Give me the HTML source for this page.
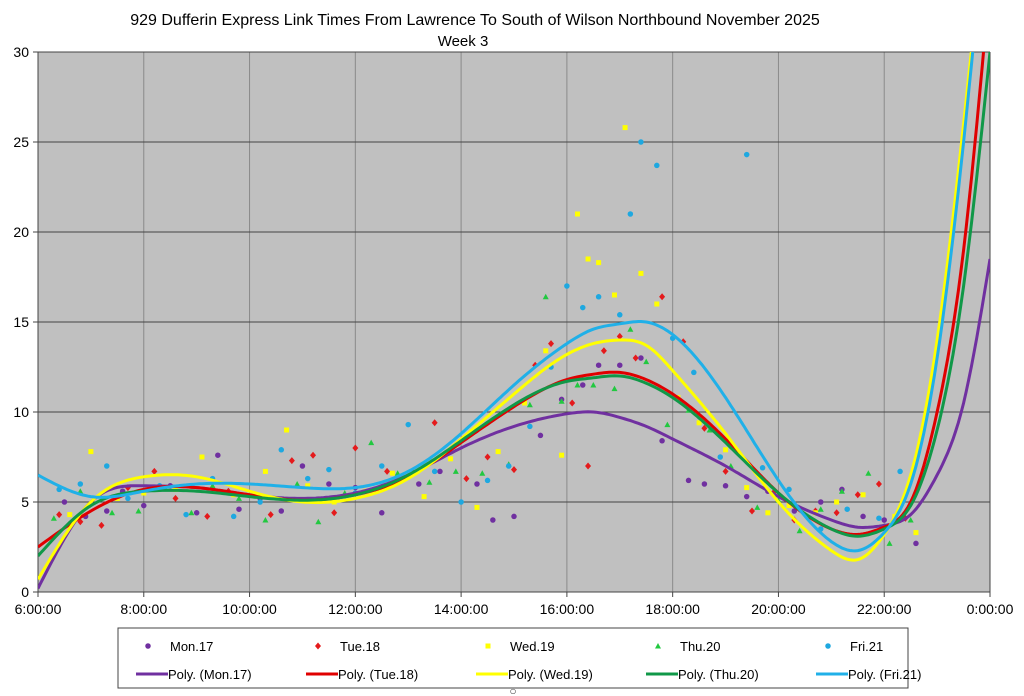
<!DOCTYPE html>
<html><head><meta charset="utf-8"><style>
body{margin:0;background:#fff;font-family:"Liberation Sans",sans-serif}
svg{display:block}
</style></head><body>
<svg id="c" width="1024" height="696" xmlns="http://www.w3.org/2000/svg">
<text x="475" y="25" text-anchor="middle" font-size="16">929 Dufferin Express Link Times From Lawrence To South of Wilson Northbound November 2025</text>
<text x="463" y="46" text-anchor="middle" font-size="15">Week 3</text>
<rect x="38" y="52" width="952" height="540" fill="#C0C0C0"/>
<g id="grid"></g><g id="axes"></g>
<defs><clipPath id="clip"><rect x="38" y="52" width="952" height="540"/></clipPath></defs>
<g id="pts" clip-path="url(#clip)"></g><g id="lines" clip-path="url(#clip)"></g>
<g id="legend"></g>
<text x="513" y="695" font-size="12" text-anchor="middle" fill="#444">○</text>
</svg>
<script>
const yTicks=[0,5,10,15,20,25,30];
const xTicks=[6,8,10,12,14,16,18,20,22,24];
const xTickLabels=["6:00:00","8:00:00","10:00:00","12:00:00","14:00:00","16:00:00","18:00:00","20:00:00","22:00:00","0:00:00"];
const seriesNames=["Mon.17","Tue.18","Wed.19","Thu.20","Fri.21"];
const fitHours=[6,7,8,9,10,11,12,13,14,15,16,16.5,17,17.5,18,19,20,21,21.5,22,22.5,23,23.5,24];
const fitMon=[0.2,5.0,5.9,5.8,5.4,5.2,5.5,6.5,8.0,9.2,9.9,10.0,9.7,9.2,8.5,7.0,5.3,4.0,3.6,3.7,4.3,6.5,10.5,18.5];
const fitTue=[2.5,4.5,5.7,5.8,5.4,5.1,5.4,6.4,8.3,10.3,11.8,12.1,12.2,11.8,11.0,8.5,5.5,3.5,3.2,3.6,5.0,10,19,34];
const fitWed=[0.7,5.0,6.4,6.4,5.6,5.0,5.2,6.3,8.5,11.0,13.2,13.8,14.0,13.7,12.3,8.8,5.0,2.3,1.8,3.2,6.5,14,26,40];
const fitThu=[2.0,4.8,5.6,5.6,5.3,5.1,5.4,6.5,8.4,10.4,11.7,11.9,12.0,11.6,10.8,8.3,5.5,3.5,3.1,3.5,4.8,9,17,30];
const fitFri=[6.5,5.3,5.6,6.0,6.0,5.8,5.8,6.7,8.8,11.5,13.8,14.6,14.9,15.0,14.3,10.8,6.2,2.8,2.3,3.3,6,13,25,40];
const ptsMonH=[6.5,6.9,7.3,7.6,8.0,8.5,9.0,9.4,9.8,10.2,10.6,11.0,11.5,12.0,12.5,13.2,13.6,14.3,14.6,15.0,15.5,15.9,16.3,16.6,17.0,17.4,17.8,18.3,18.6,19.0,19.4,19.8,20.3,20.8,21.2,21.6,22.0,22.6];
const ptsMonV=[5.0,4.2,4.5,5.6,4.8,5.9,4.4,7.6,4.6,5.2,4.5,7.0,6.0,5.8,4.4,6.0,6.7,6.0,4.0,4.2,8.7,10.7,11.5,12.6,12.6,13.0,8.4,6.2,6.0,5.9,5.3,5.6,4.5,5.0,5.7,4.2,4.0,2.7];
const ptsTueH=[6.4,6.8,7.2,7.7,8.2,8.6,9.2,9.6,10.4,10.8,11.2,11.6,12.0,12.6,13.1,13.5,14.1,14.5,15.0,15.4,15.7,16.1,16.4,16.7,17.0,17.3,17.8,18.2,18.6,19.0,19.5,19.9,20.3,20.7,21.1,21.5,21.9,22.4];
const ptsTueV=[4.3,3.9,3.7,5.8,6.7,5.2,4.2,5.6,4.3,7.3,7.6,4.4,8.0,6.7,6.6,9.4,6.3,7.5,6.8,12.6,13.8,10.5,7.0,13.4,14.2,13.0,16.4,13.9,9.1,6.7,4.5,5.5,4.0,4.5,4.4,5.4,6.0,4.1];
const ptsWedH=[6.6,7.0,7.5,8.0,8.6,9.1,9.7,10.3,10.7,11.1,11.6,12.2,12.7,13.3,13.8,14.3,14.7,15.2,15.6,15.9,16.2,16.4,16.6,16.9,17.1,17.4,17.7,18.1,18.5,19.0,19.4,19.8,20.2,20.7,21.1,21.6,22.2,22.6];
const ptsWedV=[4.3,7.8,5.2,5.5,5.7,7.5,5.4,6.7,9.0,5.9,5.0,5.6,6.6,5.3,7.4,4.7,7.8,10.5,13.4,7.6,21.0,18.5,18.3,16.5,25.8,17.7,16.0,10.8,9.4,7.9,5.8,4.4,4.8,4.4,5.0,5.4,4.2,3.3];
const ptsThuH=[6.3,6.8,7.4,7.9,8.4,8.9,9.3,9.8,10.3,10.9,11.3,11.8,12.3,12.8,13.4,13.9,14.4,14.9,15.3,15.6,15.9,16.2,16.5,16.9,17.2,17.5,17.9,18.3,18.7,19.1,19.6,20.0,20.4,20.8,21.2,21.7,22.1,22.5];
const ptsThuV=[4.1,5.6,4.4,4.5,5.8,4.4,5.9,5.2,4.0,6.0,3.9,5.5,8.3,6.6,6.1,6.7,6.6,7.1,10.4,16.4,10.6,11.5,11.5,11.3,14.6,12.8,9.3,10.1,9.0,7.0,4.7,5.1,3.4,4.6,5.6,6.6,2.7,4.0];
const ptsFriH=[6.4,6.8,7.3,7.7,8.3,8.8,9.3,9.7,10.2,10.6,11.1,11.5,12.0,12.5,13.0,13.5,14.0,14.5,14.9,15.3,15.7,16.0,16.3,16.6,17.0,17.2,17.4,17.7,18.0,18.4,18.9,19.4,19.7,20.2,20.8,21.3,21.9,22.3];
const ptsFriV=[5.7,6.0,7.0,5.2,5.9,4.3,6.3,4.2,5.0,7.9,6.3,6.8,5.5,7.0,9.3,6.7,5.0,6.2,7.0,9.2,12.5,17.0,15.8,16.4,15.4,21.0,25.0,23.7,14.1,12.2,7.5,24.3,6.9,5.7,3.5,4.6,4.1,6.7];
const colors=["#7030A0","#E41A1C","#FFFF00","#22C840","#1EA8E0"];
const lineColors=["#7030A0","#E00000","#FFFF00","#109848","#20B0E8"];
const shapes=["circle","diamond","square","triangle","circle"];

const NS="http://www.w3.org/2000/svg";
const X0=38,X1=990,Y0=592,Y1=52;
const xs=h=>X0+(h-6)/18*(X1-X0);
const ys=v=>Y0-v/30*(Y0-Y1);
function mk(tag,at,parent){const e=document.createElementNS(NS,tag);for(const k in at)e.setAttribute(k,at[k]);parent.appendChild(e);return e;}
const grid=document.getElementById('grid'),axes=document.getElementById('axes');
xTicks.forEach((t,i)=>{
  if(i>0&&i<xTicks.length-1){const l=mk('line',{x1:xs(t),x2:xs(t),y1:Y1,y2:Y0,stroke:'#8a8a8a','stroke-width':1},grid);
  
  }
  const tk=mk('line',{x1:xs(t),x2:xs(t),y1:Y0,y2:Y0+5,stroke:'#444'},axes);
  
  
  const tx=mk('text',{x:xs(t),y:Y0+22,'text-anchor':'middle','font-size':14},axes);tx.textContent=xTickLabels[i];
  
  
});
yTicks.forEach(t=>{
  if(t>0){const l=mk('line',{x1:X0,x2:X1,y1:ys(t),y2:ys(t),stroke:'#444','stroke-width':1},grid);
  
  }
  const tk=mk('line',{x1:X0-5,x2:X0,y1:ys(t),y2:ys(t),stroke:'#444'},axes);
  
  
  const tx=mk('text',{x:X0-9,y:ys(t)+5,'text-anchor':'end','font-size':14},axes);tx.textContent=t;
  
  
});
const ax=mk('path',{d:`M${X0},${Y1}V${Y0}H${X1}V${Y1}`,fill:'none',stroke:'#444','stroke-width':1},axes);



function marker(g,shape,cx,cy,col,s){
  let e;
  if(shape==='circle')e=mk('circle',{cx,cy,r:s*0.55,fill:col},g);
  else if(shape==='square')e=mk('rect',{x:cx-s*0.5,y:cy-s*0.5,width:s,height:s,fill:col},g);
  else if(shape==='diamond')e=mk('path',{d:`M${cx},${cy-s*0.7}L${cx+s*0.6},${cy}L${cx},${cy+s*0.7}L${cx-s*0.6},${cy}Z`,fill:col},g);
  else e=mk('path',{d:`M${cx},${cy-s*0.6}L${cx+s*0.6},${cy+s*0.5}L${cx-s*0.6},${cy+s*0.5}Z`,fill:col},g);
  return e;
}
const ptsH=[ptsMonH,ptsTueH,ptsWedH,ptsThuH,ptsFriH],ptsV=[ptsMonV,ptsTueV,ptsWedV,ptsThuV,ptsFriV];
const fits=[fitMon,fitTue,fitWed,fitThu,fitFri];
const pg=document.getElementById('pts');
ptsH.forEach((hs,si)=>{hs.forEach((h,j)=>{
  const m=marker(pg,shapes[si],xs(h),ys(ptsV[si][j]),colors[si],5);
  
  
});});
// natural cubic spline in x
function spline(X,Y){
  const n=X.length,h=[],a=[],l=[1],mu=[0],z=[0],c=new Array(n).fill(0),b=[],d=[];
  for(let i=0;i<n-1;i++)h[i]=X[i+1]-X[i];
  for(let i=1;i<n-1;i++)a[i]=3/h[i]*(Y[i+1]-Y[i])-3/h[i-1]*(Y[i]-Y[i-1]);
  for(let i=1;i<n-1;i++){l[i]=2*(X[i+1]-X[i-1])-h[i-1]*mu[i-1];mu[i]=h[i]/l[i];z[i]=(a[i]-h[i-1]*z[i-1])/l[i];}
  for(let j=n-2;j>=0;j--){c[j]=(j<n-1&&j>0?z[j]-mu[j]*c[j+1]:0);if(j===0)c[0]=0;b[j]=(Y[j+1]-Y[j])/h[j]-h[j]*(c[j+1]+2*c[j])/3;d[j]=(c[j+1]-c[j])/(3*h[j]);}
  return x=>{let i=0;while(i<n-2&&x>X[i+1])i++;const t=x-X[i];return Y[i]+b[i]*t+c[i]*t*t+d[i]*t*t*t;};
}
const lg=document.getElementById('lines');
fits.forEach((f,si)=>{
  const s=spline(fitHours,f);let d='';
  for(let h=6;h<=24.0001;h+=0.05){d+=(d?'L':'M')+xs(h).toFixed(1)+','+ys(s(h)).toFixed(1);}
  const p=mk('path',{d,fill:'none',stroke:lineColors[si],'stroke-width':3},lg);
  
  
});
const leg=document.getElementById('legend');
const box=mk('rect',{x:118,y:628,width:790,height:60,fill:'#fff',stroke:'#444'},leg);


const lx=[148,318,488,658,828];
seriesNames.forEach((n,i)=>{
  const m=marker(leg,shapes[i],lx[i],646,colors[i],5);
  
  
  const t=mk('text',{x:lx[i]+22,y:651,'font-size':13},leg);t.textContent=n;
  
  
  const l=mk('line',{x1:lx[i]-12,x2:lx[i]+20,y1:674,y2:674,stroke:lineColors[i],'stroke-width':3},leg);
  
  
  const t2=mk('text',{x:lx[i]+20,y:679,'font-size':13},leg);t2.textContent='Poly. ('+n+')';
  
  
});
</script>
</body></html>
